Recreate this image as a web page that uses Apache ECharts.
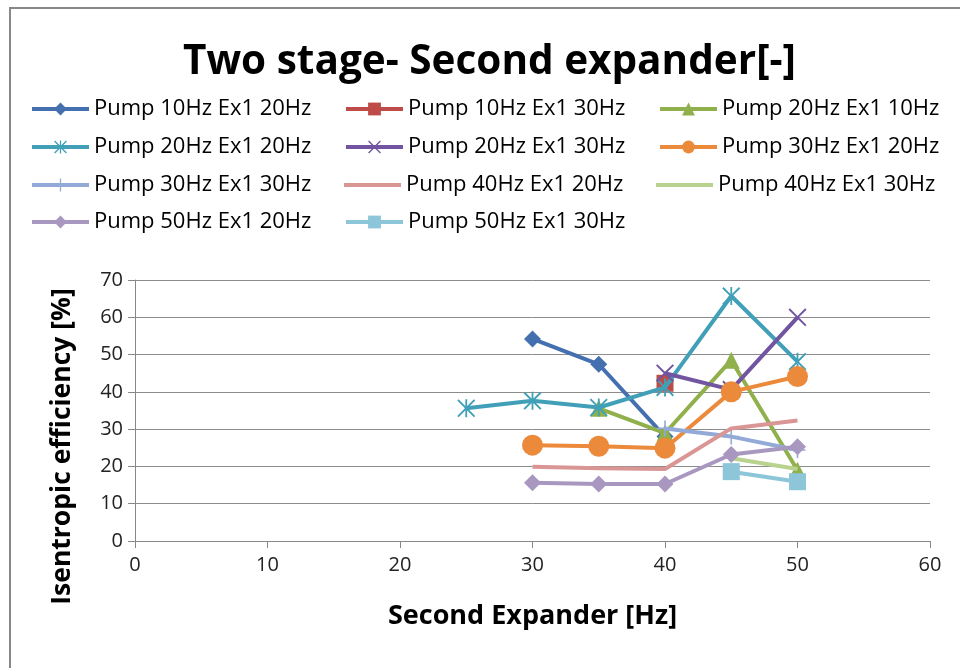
<!DOCTYPE html>
<html>
<head>
<meta charset="utf-8">
<script src="https://cdn.jsdelivr.net/npm/echarts@6/dist/echarts.min.js"></script>
<style>html,body{margin:0;padding:0;background:#fff}#c{width:960px;height:668px}</style>
</head>
<body>
<div id="c"></div>
<script>
const titleText = 'Two stage- Second expander[-]';
const xAxisName = 'Second Expander [Hz]';
const yAxisName = 'Isentropic efficiency [%]';

const seriesNames = [
  'Pump 10Hz Ex1 20Hz', 'Pump 10Hz Ex1 30Hz', 'Pump 20Hz Ex1 10Hz',
  'Pump 20Hz Ex1 20Hz', 'Pump 20Hz Ex1 30Hz', 'Pump 30Hz Ex1 20Hz',
  'Pump 30Hz Ex1 30Hz', 'Pump 40Hz Ex1 20Hz', 'Pump 40Hz Ex1 30Hz',
  'Pump 50Hz Ex1 20Hz', 'Pump 50Hz Ex1 30Hz'
];

const p10e20x = [30, 35, 40];          const p10e20y = [54.2, 47.4, 28.0];
const p10e30x = [40];                  const p10e30y = [42.3];
const p20e10x = [35, 40, 45, 50];      const p20e10y = [35.6, 28.9, 48.5, 19.0];
const p20e20x = [25, 30, 35, 40, 45, 50]; const p20e20y = [35.6, 37.6, 35.8, 41.2, 65.7, 48.1];
const p20e30x = [40, 45, 50];          const p20e30y = [45.0, 40.6, 60.0];
const p30e20x = [30, 35, 40, 45, 50];  const p30e20y = [25.7, 25.4, 24.9, 40.0, 44.1];
const p30e30x = [40, 45, 50];          const p30e30y = [30.2, 28.0, 24.4];
const p40e20x = [30, 35, 40, 45, 50];  const p40e20y = [19.9, 19.5, 19.3, 30.2, 32.3];
const p40e30x = [45, 50];              const p40e30y = [22.2, 19.3];
const p50e20x = [30, 35, 40, 45, 50];  const p50e20y = [15.6, 15.3, 15.3, 23.2, 25.3];
const p50e30x = [45, 50];              const p50e30y = [18.6, 15.9];

const xTicks = [0, 10, 20, 30, 40, 50, 60];
const yTicks = [0, 10, 20, 30, 40, 50, 60, 70];

const xs = [p10e20x, p10e30x, p20e10x, p20e20x, p20e30x, p30e20x, p30e30x, p40e20x, p40e30x, p50e20x, p50e30x];
const ys = [p10e20y, p10e30y, p20e10y, p20e20y, p20e30y, p30e20y, p30e30y, p40e20y, p40e30y, p50e20y, p50e30y];

const colors = ['#4470B0', '#BE4B48', '#8FB04B', '#41A0B8', '#7155A0', '#EC8A3C',
                '#93AAD8', '#D99694', '#B9D290', '#A898C0', '#8CC6D8'];

const XPATH = 'path://M0,1.5 L1.5,0 L10,8.5 L18.5,0 L20,1.5 L11.5,10 L20,18.5 L18.5,20 L10,11.5 L1.5,20 L0,18.5 L8.5,10 Z';
const PLUS = 'path://M9,0 H11 V9 H20 V11 H11 V20 H9 V11 H0 V9 H9 Z';
const STAR = 'path://M0,1.5 L1.5,0 L10,8.5 L18.5,0 L20,1.5 L11.5,10 L20,18.5 L18.5,20 L10,11.5 L1.5,20 L0,18.5 L8.5,10 Z M9,0 H11 V8 H9 Z M9,12 H11 V20 H9 Z';
const LINEONLY = 'path://M0,0 H0.05 V0.05 H0 Z M0,6 H57 V10 H0 Z M56.95,15.95 H57 V16 H56.95 Z';
const symbols = ['diamond', 'rect', 'triangle', STAR, XPATH, 'circle', PLUS, 'none', 'none', 'diamond', 'rect'];
const sizes = [17, 17, 17, 18, 18, 21, 16, 0, 0, 17, 17];

const font = 'Open Sans';
const series = seriesNames.map((name, i) => ({
  name: name,
  type: 'line',
  data: xs[i].map((x, j) => [x, ys[i][j]]),
  symbol: symbols[i],
  symbolSize: sizes[i],
  showSymbol: symbols[i] !== 'none',
  lineStyle: { color: colors[i], width: 4 },
  itemStyle: { color: colors[i], borderWidth: 0 },
  emphasis: { disabled: true },
  animation: false,
  z: 2 + i
}));

const legendRows = [[0, 1, 2], [3, 4, 5], [6, 7, 8], [9, 10]];
const legendTops = [97, 135, 173, 210];
const legends = legendRows.map((row, r) => ({
  top: legendTops[r],
  left: 30,
  width: 1000,
  padding: 0,
  orient: 'horizontal',
  itemWidth: 57,
  itemHeight: 16,
  itemGap: 0,
  selectedMode: false,
  lineStyle: { width: 4 },
  data: row.map(i => symbols[i] === 'none' ? { name: seriesNames[i], icon: LINEONLY } : seriesNames[i]),
  textStyle: { fontFamily: font, fontSize: 22, color: '#000', width: 250, lineHeight: 24 }
}));

const chart = echarts.init(document.getElementById('c'));
chart.setOption({
  animation: false,
  backgroundColor: '#fff',
  title: {
    text: titleText,
    left: 183,
    top: 42,
    padding: 0,
    textStyle: { fontFamily: font, fontSize: 40.5, fontWeight: 'bold', color: '#000' }
  },
  graphic: [{
    type: 'polyline',
    shape: { points: [[10, 700], [10, 8], [1000, 8]] },
    style: { stroke: '#888', lineWidth: 2, fill: null }
  }],
  legend: legends,
  grid: { left: 135, right: 30, top: 280, bottom: 127, containLabel: false },
  xAxis: {
    type: 'value',
    min: xTicks[0], max: xTicks[xTicks.length - 1], interval: 10,
    name: xAxisName,
    nameLocation: 'middle',
    nameGap: 62,
    nameTextStyle: { fontFamily: font, fontSize: 27, fontWeight: 'bold', color: '#000' },
    axisLine: { lineStyle: { color: '#888', width: 1 } },
    axisTick: { show: true, length: 7, lineStyle: { color: '#888' } },
    axisLabel: { fontFamily: font, fontSize: 20, color: '#222', margin: 14 },
    splitLine: { show: false }
  },
  yAxis: {
    type: 'value',
    min: yTicks[0], max: yTicks[yTicks.length - 1], interval: 10,
    name: yAxisName,
    nameLocation: 'middle',
    nameGap: 59,
    nameTextStyle: { fontFamily: font, fontSize: 26.5, fontWeight: 'bold', color: '#000', padding: [0, 72, 0, 0] },
    axisLine: { show: true, lineStyle: { color: '#888', width: 1 } },
    axisTick: { show: true, length: 7, lineStyle: { color: '#888' } },
    axisLabel: { fontFamily: font, fontSize: 20, color: '#222', margin: 12 },
    splitLine: { show: true, lineStyle: { color: '#8c8c8c', width: 1 } }
  },
  series: series
});
</script>
</body>
</html>
